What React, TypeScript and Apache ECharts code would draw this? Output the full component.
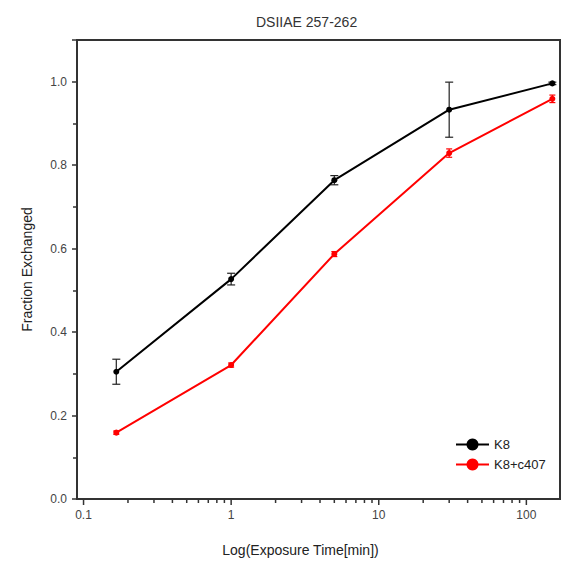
import React, { useEffect, useRef } from "react";
import * as echarts from "echarts";

const timesMin = [0.1667, 1, 5, 30, 150];
const k8Values = [0.305, 0.527, 0.764, 0.933, 0.996];
const k8Errors = [0.03, 0.014, 0.011, 0.066, 0.003];
const c407Values = [0.159, 0.321, 0.587, 0.829, 0.959];
const c407Errors = [0.004, 0.005, 0.006, 0.01, 0.009];
const xMajorTicks = [0.1, 1, 10, 100];
const xMinorTicks = [0.2, 0.3, 0.4, 0.5, 0.6, 0.7, 0.8, 0.9, 2, 3, 4, 5, 6, 7, 8, 9, 20, 30, 40, 50, 60, 70, 80, 90];

const FONT = "'Liberation Sans', Arial, sans-serif";

function errorBarSeries(name: string, values: number[], errors: number[], color: string, capHalf: number) {
  return {
    type: "custom",
    name: name + "-err",
    silent: true,
    z: 3,
    data: timesMin.map((t, i) => [t, values[i] - errors[i], values[i] + errors[i]]),
    renderItem: (params: any, api: any) => {
      const lo = api.coord([api.value(0), api.value(1)]);
      const hi = api.coord([api.value(0), api.value(2)]);
      const st = { stroke: color, lineWidth: 1.2 };
      return {
        type: "group",
        children: [
          { type: "line", shape: { x1: lo[0], y1: lo[1], x2: hi[0], y2: hi[1] }, style: st },
          { type: "line", shape: { x1: lo[0] - capHalf, y1: lo[1], x2: lo[0] + capHalf, y2: lo[1] }, style: st },
          { type: "line", shape: { x1: hi[0] - capHalf, y1: hi[1], x2: hi[0] + capHalf, y2: hi[1] }, style: st },
        ],
      };
    },
  };
}

function tickSeries(ticks: number[], len: number) {
  return {
    type: "custom",
    silent: true,
    clip: false,
    z: 5,
    data: ticks.map((t) => [t, 0]),
    renderItem: (params: any, api: any) => {
      const p = api.coord([api.value(0), 0]);
      return {
        type: "line",
        shape: { x1: p[0], y1: p[1], x2: p[0], y2: p[1] + len },
        style: { stroke: "#333", lineWidth: 1.5 },
      };
    },
  };
}

export default function App() {
  const ref = useRef<HTMLDivElement>(null);
  useEffect(() => {
    if (!ref.current) return;
    const chart = echarts.init(ref.current, null, { renderer: "svg" });
    chart.setOption({
      animation: false,
      backgroundColor: "#fff",
      textStyle: { fontFamily: FONT },
      title: {
        text: "DSIIAE 257-262",
        left: 251,
        top: 10,
        textStyle: { fontFamily: FONT, fontSize: 14, fontWeight: "normal", color: "#333" },
      },
      legend: {
        orient: "vertical",
        left: 450,
        top: 433,
        itemWidth: 33,
        itemHeight: 15,
        itemGap: 7,
        textStyle: { fontFamily: FONT, fontSize: 13, color: "#222" },
        data: ["K8", "K8+c407"],
      },
      grid: {
        left: 77,
        top: 40,
        right: 0,
        bottom: 64,
        show: true,
        borderColor: "#333",
        borderWidth: 2,
      },
      xAxis: {
        type: "log",
        logBase: 10,
        min: 0.0903,
        max: 169,
        name: "Log(Exposure Time[min])",
        nameLocation: "middle",
        nameGap: 44,
        nameTextStyle: { fontFamily: FONT, fontSize: 14, color: "#222", padding: [0, 36, 0, 0] },
        axisLine: { show: true, lineStyle: { color: "#333", width: 2 } },
        axisTick: { show: false },
        splitLine: { show: false },
        axisLabel: {
          margin: 10,
          fontSize: 12,
          color: "#444",
          fontFamily: FONT,
          formatter: (v: number) => {
            const m = xMajorTicks.find((t) => Math.abs(v - t) / t < 1e-6);
            return m === undefined ? "" : String(m);
          },
        },
      },
      yAxis: {
        type: "value",
        min: 0,
        max: 1.1,
        interval: 0.2,
        name: "Fraction Exchanged",
        nameLocation: "middle",
        nameGap: 43,
        nameTextStyle: { fontFamily: FONT, fontSize: 14, color: "#222" },
        axisLine: { show: true, lineStyle: { color: "#333", width: 2 } },
        axisTick: { show: true, inside: false, length: 5, lineStyle: { color: "#333", width: 1.5 } },
        minorTick: { show: true, splitNumber: 2, length: 4, lineStyle: { color: "#333", width: 1.5 } },
        splitLine: { show: false },
        axisLabel: {
          margin: 10,
          fontSize: 12,
          color: "#444",
          fontFamily: FONT,
          showMaxLabel: false,
          formatter: (v: number) => (v > 1.05 ? "" : v.toFixed(1)),
        },
      },
      series: [
        tickSeries(xMajorTicks, 6),
        tickSeries(xMinorTicks, 4),
        errorBarSeries("K8", k8Values, k8Errors, "#222", 4),
        errorBarSeries("K8+c407", c407Values, c407Errors, "#ff0000", 3),
        {
          type: "line",
          name: "K8",
          data: timesMin.map((t, i) => [t, k8Values[i]]),
          symbol: "circle",
          symbolSize: 6,
          showSymbol: true,
          lineStyle: { color: "#000", width: 2 },
          itemStyle: { color: "#000" },
          z: 4,
        },
        {
          type: "line",
          name: "K8+c407",
          data: timesMin.map((t, i) => [t, c407Values[i]]),
          symbol: "circle",
          symbolSize: 6,
          showSymbol: true,
          lineStyle: { color: "#ff0000", width: 2 },
          itemStyle: { color: "#ff0000" },
          z: 4,
        },
      ],
    });
    return () => chart.dispose();
  }, []);
  return <div ref={ref} style={{ width: 563, height: 563, position: "absolute", left: 0, top: 0 }} />;
}
